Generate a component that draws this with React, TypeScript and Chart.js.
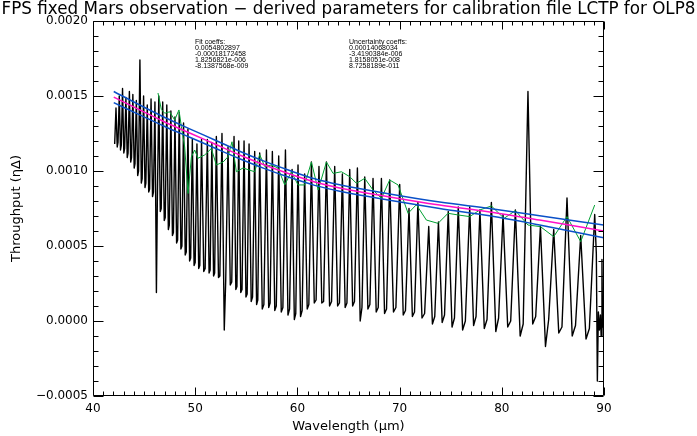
import { useEffect, useRef } from 'react';
import { Chart, registerables } from 'chart.js';

Chart.register(...registerables);

// ---------- data ----------
const startWl = 42.12;
const startVal = 0.00118;

// fringe maxima of the measured spectrum (wavelength, µm)
const peakWl = [
  42.25, 42.57, 42.89, 43.22, 43.56, 43.90, 44.24, 44.59, 44.95, 45.31,
  45.68, 46.06, 46.44, 46.82, 47.22, 47.62, 48.02, 48.44, 48.86, 49.29,
  49.72, 50.17, 50.62, 51.19, 51.63, 52.07, 52.62, 53.21, 53.80, 54.26,
  54.78, 55.27, 55.82, 56.31, 56.97, 57.55, 58.17, 58.83, 59.48, 60.06,
  60.71, 61.37, 62.11, 62.84, 63.65, 64.40, 65.12, 65.87, 66.59, 67.40,
  68.22, 69.03, 70.01, 70.92, 71.79, 72.85, 73.80, 74.76, 75.74, 76.86,
  77.86, 78.98, 80.12, 81.33, 82.56, 83.78, 85.08, 86.38, 87.72, 89.09,
];
const peakVal = [
  0.00142, 0.00150, 0.00155, 0.00149, 0.00153, 0.00151, 0.00147, 0.00174, 0.00150, 0.00144,
  0.00148, 0.00146, 0.00150, 0.00146, 0.00144, 0.00140, 0.00136, 0.00139, 0.00132, 0.00128,
  0.00121, 0.00118, 0.00121, 0.00121, 0.00119, 0.00123, 0.00125, 0.00116, 0.00123, 0.00120,
  0.00120, 0.00118, 0.00113, 0.00112, 0.00114, 0.00113, 0.00110, 0.00114, 0.00101, 0.00104,
  0.00098, 0.00106, 0.00103, 0.00106, 0.00103, 0.00098, 0.00101, 0.00102, 0.00096, 0.00095,
  0.00095, 0.00094, 0.00091, 0.00075, 0.00079, 0.00063, 0.00066, 0.00073, 0.00076, 0.00076,
  0.00074, 0.00079, 0.00071, 0.00074, 0.00153, 0.00063, 0.00061, 0.00082, 0.00057, 0.00071,
];
// fringe minima following each maximum (two samples per trough)
const troughA = [
  0.00116, 0.00114, 0.00112, 0.00109, 0.00106, 0.00102, 0.00097, 0.00092, 0.00089, 0.00086,
  0.00083, 0.00019, 0.00073, 0.00067, 0.00061, 0.00057, 0.00052, 0.00048, 0.00044, 0.00040,
  0.00037, 0.00035, 0.00033, 0.00032, 0.00030, 0.00029, -0.00006, 0.00024, 0.00021, 0.00019,
  0.00016, 0.00013, 0.00011, 0.00008, 0.00009, 0.00007, 0.00006, 0.00004, 0.00001, 0.00003,
  0.00008, 0.00012, 0.00012, 0.00010, 0.00010, 0.00009, 0.00010, 0.00000, 0.00008, 0.00006,
  0.00005, 0.00006, 0.00004, 0.00003, 0.00002, -0.00002, -0.00001, -0.00004, -0.00006, -0.00003,
  -0.00005, -0.00007, -0.00004, -0.00010, -0.00002, -0.00017, -0.00008, -0.00010, -0.00012,
];
const troughB = [
  0.00119, 0.00117, 0.00115, 0.00112, 0.00109, 0.00105, 0.00100, 0.00095, 0.00092, 0.00088,
  0.00086, 0.00080, 0.00075, 0.00069, 0.00064, 0.00059, 0.00054, 0.00050, 0.00046, 0.00042,
  0.00039, 0.00037, 0.00035, 0.00034, 0.00032, 0.00030, 0.00027, 0.00026, 0.00023, 0.00021,
  0.00018, 0.00016, 0.00014, 0.00011, 0.00012, 0.00010, 0.00009, 0.00008, 0.00005, 0.00007,
  0.00011, 0.00014, 0.00013, 0.00013, 0.00012, 0.00012, 0.00013, 0.00009, 0.00011, 0.00009,
  0.00008, 0.00009, 0.00007, 0.00006, 0.00005, 0.00003, 0.00004, 0.00002, 0.00000, 0.00003,
  0.00001, 0.00002, 0.00000, -0.00002, 0.00003, 0.00001, -0.00004, -0.00003, -0.00005,
];
const tailWl = [89.25, 89.35, 89.45, 89.55, 89.65, 89.72, 89.80, 89.86, 89.92, 89.98];
const tailVal = [0.00045, -0.00040, 0.00006, -0.00006, 0.00004, -0.00010, 0.00041, -0.00004, 0.00002, -0.00008];

// green line joining selected fringe maxima
const greenWl = [
  46.36, 46.69, 47.02, 47.50, 47.99, 48.41, 48.65, 48.97, 49.30, 49.63,
  49.95, 50.27, 50.93, 51.58, 52.07, 52.73, 53.21, 53.60, 54.03, 54.68,
  55.82, 56.31, 56.80, 57.45, 58.10, 58.76, 59.41, 60.06, 60.71, 61.37,
  62.03, 62.84, 63.49, 64.31, 65.12, 65.78, 66.59, 67.40, 68.22, 69.03,
  69.85, 70.83, 71.64, 72.62, 73.76, 74.74, 75.71, 76.86, 77.84, 78.98,
  80.22, 81.33, 82.56, 83.78, 85.08, 86.38, 87.72, 89.09,
];
const greenVal = [
  0.001520, 0.001410, 0.001385, 0.001395, 0.001340, 0.001407, 0.001295, 0.001160, 0.000850, 0.001095,
  0.001140, 0.001085, 0.001107, 0.001150, 0.001040, 0.001060, 0.001095, 0.001195, 0.000995, 0.001020,
  0.000995, 0.001110, 0.001030, 0.001040, 0.001020, 0.000907, 0.000995, 0.000907, 0.000907, 0.001060,
  0.000873, 0.001060, 0.000984, 0.000995, 0.000962, 0.000918, 0.000951, 0.000873, 0.000818, 0.000940,
  0.000907, 0.000718, 0.000775, 0.000673, 0.000651, 0.000718, 0.000707, 0.000696, 0.000740, 0.000767,
  0.000684, 0.000736, 0.000640, 0.000629, 0.000562, 0.000696, 0.000529, 0.000773,
];

// fitted curve and its uncertainty envelope
const fitWl = [42.03, 44.57, 47.02, 49.46, 51.91, 54.35, 56.80, 59.25, 61.69, 64.14, 69.03, 73.92, 78.81, 83.70, 89.96];
const fitVal = [0.001493, 0.001407, 0.001327, 0.001253, 0.001180, 0.001107, 0.001040, 0.000980, 0.000927, 0.000887, 0.000827, 0.000773, 0.000727, 0.000673, 0.000600];
const fitUpper = [0.001530, 0.001440, 0.001357, 0.001281, 0.001207, 0.001132, 0.001064, 0.001003, 0.000948, 0.000908, 0.000847, 0.000793, 0.000750, 0.000702, 0.000640];
const fitLower = [0.001456, 0.001374, 0.001297, 0.001225, 0.001153, 0.001082, 0.001016, 0.000957, 0.000904, 0.000865, 0.000805, 0.000750, 0.000701, 0.000640, 0.000555];

const fitCoeffs = ['0.0054802897', '-0.00018172458', '1.8256821e-006', '-8.1387568e-009'];
const uncCoeffs = ['0.00014068034', '-3.4190384e-006', '1.8158051e-008', '8.7258189e-011'];

const TITLE = 'FPS fixed Mars observation \u2212 derived parameters for calibration file LCTP for OLP8';
const X_TITLE = 'Wavelength (\u03bcm)';
const Y_TITLE = 'Throughput (\u03b7\u0394)';

const X_MIN = 40, X_MAX = 90, X_MAJOR = 10, X_MINOR = 1;
const Y_MIN = -0.0005, Y_MAX = 0.002, Y_MAJOR = 0.0005, Y_MINOR = 0.0001;

const FONT = 'DejaVu Sans';

function buildSpectrum() {
  const pts: { x: number; y: number }[] = [{ x: startWl, y: startVal }];
  for (let i = 0; i < peakWl.length; i++) {
    pts.push({ x: peakWl[i], y: peakVal[i] });
    if (i < troughA.length) {
      const d = peakWl[i + 1] - peakWl[i];
      pts.push({ x: peakWl[i] + d * 0.38, y: troughA[i] });
      pts.push({ x: peakWl[i] + d * 0.62, y: troughB[i] });
    }
  }
  tailWl.forEach((w, i) => pts.push({ x: w, y: tailVal[i] }));
  return pts;
}

const zip = (xs: number[], ys: number[]) => xs.map((x, i) => ({ x, y: ys[i] }));

const idlPlugin = {
  id: 'idlFrame',
  afterDatasetsDraw(chart: any) {
    const { ctx, chartArea: a, scales } = chart;
    const xs = scales.x, ys = scales.y;
    ctx.save();
    ctx.strokeStyle = '#000';
    ctx.lineWidth = 1;
    const L = Math.round(a.left) + 0.5, R = Math.round(a.right) - 0.5;
    const T = Math.round(a.top) + 0.5, B = Math.round(a.bottom) - 0.5;
    ctx.beginPath();
    ctx.rect(L, T, R - L, B - T);
    const nx = Math.round((X_MAX - X_MIN) / X_MINOR);
    for (let i = 0; i <= nx; i++) {
      const v = X_MIN + i * X_MINOR;
      const px = Math.round(xs.getPixelForValue(v)) + 0.5;
      const major = i % Math.round(X_MAJOR / X_MINOR) === 0;
      const len = major ? 8 : 4;
      ctx.moveTo(px, B); ctx.lineTo(px, B - len);
      ctx.moveTo(px, T); ctx.lineTo(px, T + len);
    }
    const ny = Math.round((Y_MAX - Y_MIN) / Y_MINOR);
    for (let i = 0; i <= ny; i++) {
      const v = Y_MIN + i * Y_MINOR;
      const py = Math.round(ys.getPixelForValue(v)) + 0.5;
      const major = i % Math.round(Y_MAJOR / Y_MINOR) === 0;
      const len = major ? 10 : 5;
      ctx.moveTo(L, py); ctx.lineTo(L + len, py);
      ctx.moveTo(R, py); ctx.lineTo(R - len, py);
    }
    ctx.stroke();
    ctx.restore();
  },
  afterDraw(chart: any) {
    const { ctx, chartArea: a } = chart;
    ctx.save();
    ctx.fillStyle = '#000';
    let size = 15;
    ctx.font = `${size}px "${FONT}"`;
    const w = ctx.measureText(TITLE).width;
    size = size * 694 / w;
    ctx.font = `${size}px "${FONT}"`;
    ctx.textAlign = 'center';
    ctx.textBaseline = 'alphabetic';
    ctx.fillText(TITLE, chart.width / 2, 14);
    ctx.font = `13px "${FONT}"`;
    ctx.textBaseline = 'middle';
    ctx.fillText(X_TITLE, (a.left + a.right) / 2, 427);
    ctx.save();
    ctx.translate(17, (a.top + a.bottom) / 2);
    ctx.rotate(-Math.PI / 2);
    ctx.fillText(Y_TITLE, 0, 0);
    ctx.restore();
    ctx.font = `7px "Liberation Sans"`;
    ctx.textAlign = 'left';
    ctx.textBaseline = 'alphabetic';
    const lx = a.left + 102, rx = a.left + 256, y0 = a.top + 22.5;
    ctx.fillText('Fit coeffs:', lx, y0);
    ctx.fillText('Uncertainty coeffs:', rx, y0);
    fitCoeffs.forEach((s, i) => ctx.fillText(s, lx, y0 + 6 * (i + 1)));
    uncCoeffs.forEach((s, i) => ctx.fillText(s, rx, y0 + 6 * (i + 1)));
    ctx.restore();
  },
};

export default function App() {
  const ref = useRef<HTMLCanvasElement>(null);
  useEffect(() => {
    const canvas = ref.current;
    if (!canvas) return;
    const chart = new Chart(canvas, {
      type: 'scatter',
      data: {
        datasets: [
          {
            label: 'Spectrum',
            data: buildSpectrum(),
            showLine: true,
            borderColor: '#000000',
            borderWidth: 1.4,
            borderJoinStyle: 'round',
            pointRadius: 0,
            order: 10,
          },
          {
            label: 'Maxima',
            data: zip(greenWl, greenVal),
            showLine: true,
            borderColor: '#00a032',
            borderWidth: 1,
            borderJoinStyle: 'round',
            pointRadius: 0,
            order: 5,
          },
          {
            label: 'Fit',
            data: zip(fitWl, fitVal),
            showLine: true,
            borderColor: '#ff10c8',
            borderWidth: 1.5,
            cubicInterpolationMode: 'monotone',
            pointRadius: 0,
            order: 2,
          },
          {
            label: 'Upper',
            data: zip(fitWl, fitUpper),
            showLine: true,
            borderColor: '#0a50c8',
            borderWidth: 1.5,
            cubicInterpolationMode: 'monotone',
            pointRadius: 0,
            order: 1,
          },
          {
            label: 'Lower',
            data: zip(fitWl, fitLower),
            showLine: true,
            borderColor: '#0a50c8',
            borderWidth: 1.5,
            cubicInterpolationMode: 'monotone',
            pointRadius: 0,
            order: 1,
          },
        ],
      } as any,
      options: {
        animation: false,
        responsive: false,
        maintainAspectRatio: false,
        layout: { padding: { left: 0, right: 93, top: 21, bottom: 0 } },
        plugins: { legend: { display: false }, tooltip: { enabled: false }, title: { display: false } },
        events: [],
        scales: {
          x: {
            type: 'linear',
            min: X_MIN,
            max: X_MAX,
            grid: { display: false, drawTicks: false },
            border: { display: false },
            ticks: {
              stepSize: X_MAJOR,
              autoSkip: false,
              maxRotation: 0,
              padding: 6,
              color: '#000',
              font: { family: FONT, size: 12 },
              callback: (v: any) => String(Math.round(Number(v))),
            },
            afterFit: (s: any) => { s.height = 40; },
          },
          y: {
            type: 'linear',
            min: Y_MIN,
            max: Y_MAX,
            grid: { display: false, drawTicks: false },
            border: { display: false },
            ticks: {
              stepSize: Y_MAJOR,
              autoSkip: false,
              padding: 5,
              color: '#000',
              font: { family: FONT, size: 12 },
              callback: (v: any) => {
                const n = Number(v);
                return (n < -1e-9 ? '\u2212' : '') + Math.abs(n).toFixed(4);
              },
            },
            afterFit: (s: any) => { s.width = 93; },
          },
        },
      } as any,
      plugins: [idlPlugin],
    });
    return () => chart.destroy();
  }, []);
  return (
    <div style={{ position: 'fixed', left: 0, top: 0, width: 697, height: 436, background: '#fff' }}>
      <canvas ref={ref} width={697} height={436} style={{ display: 'block', width: 697, height: 436 }} />
    </div>
  );
}
